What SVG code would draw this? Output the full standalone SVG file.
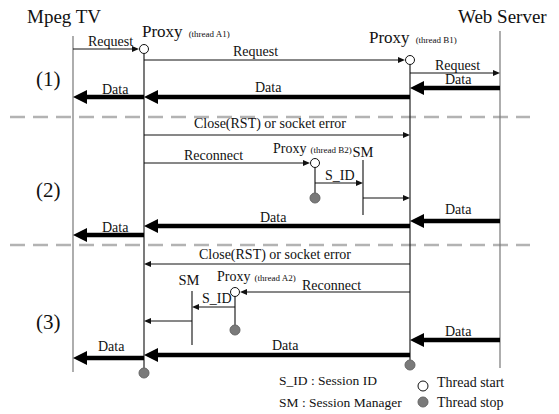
<svg xmlns="http://www.w3.org/2000/svg" width="559" height="414" viewBox="0 0 559 414">
  <style>
    text { font-family: "Liberation Serif", "Times New Roman", serif; fill: #111; }
    .title { font-size: 19px; }
    .proxy { font-size: 17px; }
    .proxy2 { font-size: 14px; }
    .thr { font-size: 9px; }
    .lbl { font-size: 14px; }
    .sm { font-size: 14.5px; }
    .phase { font-size: 21px; }
    .legend { font-size: 13.5px; }
    .legend2 { font-size: 14px; }
    .life { stroke: #222; stroke-width: 1.2; fill: none; }
    .lifeg { stroke: #777; stroke-width: 1.2; fill: none; }
    .sep { stroke: #b3b3b3; stroke-width: 2.5; stroke-dasharray: 15 8; fill: none; }
    .thin { stroke: #111; stroke-width: 1; fill: none; marker-end: url(#ah); }
    .thick { stroke: #000; stroke-width: 4.5; fill: none; marker-end: url(#ahb); }
    .start { fill: #fff; stroke: #111; stroke-width: 1; }
    .stop { fill: #7a7a7a; stroke: #666; stroke-width: 1; }
  </style>
  <defs>
    <marker id="ah" markerUnits="userSpaceOnUse" markerWidth="8" markerHeight="6" refX="0" refY="3" orient="auto" overflow="visible">
      <path d="M0,0 L7,3 L0,6 z" fill="#111"/>
    </marker>
    <marker id="ahb" markerUnits="userSpaceOnUse" markerWidth="15" markerHeight="14" refX="0" refY="7" orient="auto" overflow="visible">
      <path d="M0,0 L14,7 L0,14 z" fill="#000"/>
    </marker>
  </defs>

  <rect width="559" height="414" fill="#fff"/>

  <!-- phase separators -->
  <g id="separators">
    <line class="sep" x1="10" y1="117" x2="530" y2="117"/>
    <line class="sep" x1="10" y1="245" x2="530" y2="245"/>
  </g>

  <!-- phase labels -->
  <g id="phases">
    <text class="phase" x="36" y="86">(1)</text>
    <text class="phase" x="36" y="197">(2)</text>
    <text class="phase" x="36" y="329">(3)</text>
  </g>

  <!-- Mpeg TV client -->
  <g id="mpeg-tv">
    <text class="title" x="27" y="23">Mpeg TV</text>
    <line class="lifeg" x1="73" y1="36" x2="73" y2="372"/>
  </g>

  <!-- Proxy thread A1 -->
  <g id="proxy-a1">
    <text x="142" y="37"><tspan class="proxy">Proxy</tspan><tspan class="thr" dx="6">(thread A1)</tspan></text>
    <line class="life" x1="144" y1="54" x2="144" y2="368"/>
    <circle class="start" cx="144" cy="49" r="4.5"/>
    <circle class="stop" cx="144" cy="373" r="5"/>
  </g>

  <!-- Proxy thread B1 -->
  <g id="proxy-b1">
    <text x="369" y="43"><tspan class="proxy">Proxy</tspan><tspan class="thr" dx="6">(thread B1)</tspan></text>
    <line class="life" x1="410" y1="65" x2="410" y2="360"/>
    <circle class="start" cx="410" cy="60" r="4.5"/>
    <circle class="stop" cx="410" cy="365" r="5"/>
  </g>

  <!-- Web Server -->
  <g id="web-server">
    <text class="title" x="458" y="23">Web Server</text>
    <line class="lifeg" x1="500" y1="31" x2="500" y2="368"/>
  </g>

  <!-- Proxy thread B2 -->
  <g id="proxy-b2">
    <text x="273" y="153"><tspan class="proxy2">Proxy</tspan><tspan class="thr" dx="4">(thread B2)</tspan></text>
    <line class="life" x1="315" y1="167" x2="315" y2="193"/>
    <circle class="start" cx="315" cy="163" r="4.5"/>
    <circle class="stop" cx="315" cy="198" r="5"/>
  </g>

  <!-- Session manager, phase 2 -->
  <g id="sm-2">
    <text class="sm" x="363" y="157" text-anchor="middle">SM</text>
    <line class="life" x1="363" y1="160" x2="363" y2="215"/>
  </g>

  <!-- Proxy thread A2 -->
  <g id="proxy-a2">
    <text x="217" y="281"><tspan class="proxy2">Proxy</tspan><tspan class="thr" dx="4">(thread A2)</tspan></text>
    <line class="life" x1="235" y1="296" x2="235" y2="325"/>
    <circle class="start" cx="235" cy="292" r="4.5"/>
    <circle class="stop" cx="235" cy="330" r="5"/>
  </g>

  <!-- Session manager, phase 3 -->
  <g id="sm-3">
    <text class="sm" x="189" y="285" text-anchor="middle">SM</text>
    <line class="life" x1="192" y1="291" x2="192" y2="345"/>
  </g>

  <!-- messages -->
  <g id="connectors">
    <!-- phase 1 -->
    <line class="thin" x1="73" y1="49" x2="132" y2="49"/>
    <line class="thin" x1="144" y1="60" x2="398" y2="60"/>
    <line class="thin" x1="410" y1="73" x2="493" y2="73"/>
    <line class="thick" x1="500" y1="88" x2="424" y2="88"/>
    <line class="thick" x1="410" y1="97" x2="158" y2="97"/>
    <line class="thick" x1="144" y1="97" x2="87" y2="97"/>
    <!-- phase 2 -->
    <line class="thin" x1="144" y1="135" x2="403" y2="135"/>
    <line class="thin" x1="144" y1="163" x2="303" y2="163"/>
    <line class="thin" x1="315" y1="183" x2="356" y2="183"/>
    <line class="thin" x1="363" y1="198" x2="403" y2="198"/>
    <line class="thick" x1="500" y1="221" x2="424" y2="221"/>
    <line class="thick" x1="410" y1="226" x2="158" y2="226"/>
    <line class="thick" x1="144" y1="235" x2="87" y2="235"/>
    <!-- phase 3 -->
    <line class="thin" x1="410" y1="264" x2="151" y2="264"/>
    <line class="thin" x1="410" y1="292" x2="247" y2="292"/>
    <line class="thin" x1="235" y1="307" x2="199" y2="307"/>
    <line class="thin" x1="192" y1="321" x2="151" y2="321"/>
    <line class="thick" x1="500" y1="340" x2="424" y2="340"/>
    <line class="thick" x1="410" y1="355" x2="158" y2="355"/>
    <line class="thick" x1="144" y1="358" x2="87" y2="358"/>
  </g>

  <!-- message labels -->
  <g id="labels">
    <text class="lbl" x="88" y="46">Request</text>
    <text class="lbl" x="233" y="56">Request</text>
    <text class="lbl" x="435" y="70">Request</text>
    <text class="lbl" x="445" y="84">Data</text>
    <text class="lbl" x="255" y="92">Data</text>
    <text class="lbl" x="102" y="94">Data</text>

    <text class="lbl" x="270" y="128" text-anchor="middle">Close(RST) or socket error</text>
    <text class="lbl" x="184" y="160">Reconnect</text>
    <text class="lbl" x="325" y="180">S_ID</text>
    <text class="lbl" x="445" y="214">Data</text>
    <text class="lbl" x="260" y="222">Data</text>
    <text class="lbl" x="102" y="232">Data</text>

    <text class="lbl" x="275" y="259" text-anchor="middle">Close(RST) or socket error</text>
    <text class="lbl" x="302" y="290">Reconnect</text>
    <text class="lbl" x="202" y="303">S_ID</text>
    <text class="lbl" x="445" y="336">Data</text>
    <text class="lbl" x="272" y="350">Data</text>
    <text class="lbl" x="98" y="351">Data</text>
  </g>

  <!-- legend -->
  <g id="legend">
    <text class="legend" x="279" y="385">S_ID : Session ID</text>
    <text class="legend" x="279" y="407">SM : Session Manager</text>
    <circle class="start" cx="423" cy="386" r="5"/>
    <text class="legend2" x="437" y="387">Thread start</text>
    <circle class="stop" cx="423" cy="402" r="5"/>
    <text class="legend2" x="437" y="407">Thread stop</text>
  </g>
</svg>
